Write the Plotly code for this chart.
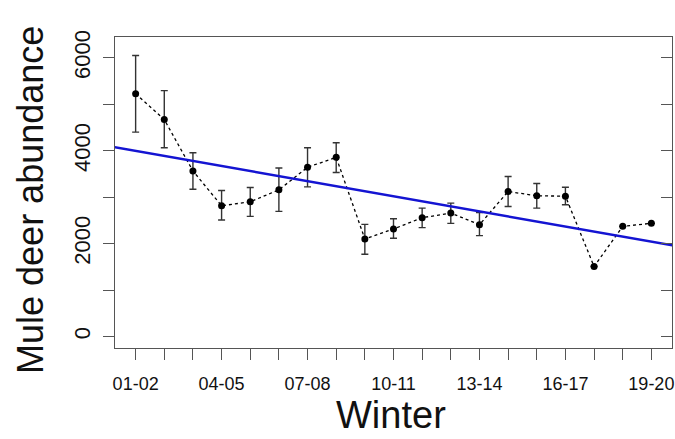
import numpy as np
import plotly.graph_objects as go

winters = ["01-02", "02-03", "03-04", "04-05", "05-06", "06-07", "07-08", "08-09", "09-10", "10-11",
           "11-12", "12-13", "13-14", "14-15", "15-16", "16-17", "17-18", "18-19", "19-20"]
abundance = [5228, 4671, 3564, 2814, 2900, 3157, 3643, 3857, 2100, 2314,
             2557, 2657, 2407, 3121, 3029, 3021, 1507, 2371, 2436]
upper = [6049, 5293, 3957, 3143, 3207, 3628, 4064, 4171, 2414, 2536,
         2764, 2871, 2671, 3443, 3293, 3214, None, None, None]
lower = [4400, 4064, 3171, 2507, 2586, 2693, 3221, 3529, 1771, 2114,
         2343, 2436, 2171, 2800, 2764, 2836, None, None, None]
labeled_winters = ["01-02", "04-05", "07-08", "10-11", "13-14", "16-17", "19-20"]
y_ticks = [0, 1000, 2000, 3000, 4000, 5000, 6000]
y_labels = ["0", "", "2000", "", "4000", "", "6000"]

idx = list(range(len(winters)))
err_plus = [(u - a) if u is not None else 0 for u, a in zip(upper, abundance)]
err_minus = [(a - l) if l is not None else 0 for l, a in zip(lower, abundance)]

slope, intercept = np.polyfit(idx, abundance, 1)
trend_x = [-2, len(winters) + 1]
trend_y = [intercept + slope * x for x in trend_x]

FONT = "Liberation Sans, Arial, sans-serif"
AX = "#555555"

fig = go.Figure()
fig.add_trace(go.Scatter(
    x=idx, y=abundance, mode="lines+markers",
    line=dict(color="black", width=1.3, dash="dot"),
    marker=dict(color="black", size=7),
    error_y=dict(type="data", symmetric=False, array=err_plus, arrayminus=err_minus,
                 color="#333333", thickness=1.4, width=3.5),
    showlegend=False, hoverinfo="skip"))
fig.add_trace(go.Scatter(
    x=trend_x, y=trend_y, mode="lines",
    line=dict(color="#1414D2", width=2.5),
    showlegend=False, hoverinfo="skip", cliponaxis=True))
fig.add_trace(go.Scatter(x=[None], y=[None], yaxis="y2", showlegend=False, hoverinfo="skip"))

ticktext_x = [w if w in labeled_winters else "" for w in winters]

fig.update_layout(
    width=675, height=439,
    margin=dict(l=115, r=3, t=37, b=91),
    paper_bgcolor="white", plot_bgcolor="white",
    font=dict(family=FONT, color="#111111"),
    xaxis=dict(range=[-0.72, 18.72], tickmode="array", tickvals=idx, ticktext=ticktext_x,
               ticks="outside", ticklen=11, tickcolor=AX, tickwidth=1.2,
               tickfont=dict(size=18, family=FONT, color="#111111"),
               showgrid=False, zeroline=False, showline=True, linecolor=AX, linewidth=1.3,
               mirror=True, tickangle=0, automargin=False, ticklabeloverflow="allow",
               ticklabelstandoff=8),
    yaxis=dict(range=[-248, 6448], tickmode="array", tickvals=y_ticks, ticktext=y_labels,
               ticks="outside", ticklen=11, tickcolor=AX, tickwidth=1.2,
               tickfont=dict(size=22, family=FONT, color="#111111"), tickangle=-90,
               showgrid=False, zeroline=False, showline=True, linecolor=AX, linewidth=1.3,
               mirror=True, automargin=False, ticklabelstandoff=4),
    yaxis2=dict(range=[-248, 6448], overlaying="y", side="right", tickmode="array",
                tickvals=y_ticks, ticks="inside", ticklen=11, tickcolor=AX, tickwidth=1.2,
                showticklabels=False, showgrid=False, zeroline=False, showline=False,
                automargin=False),
    annotations=[
        dict(text="Winter", xref="paper", yref="paper", x=0.495, y=0, yshift=-90,
             xanchor="center", yanchor="bottom", showarrow=False,
             font=dict(size=38, family=FONT, color="#111111")),
        dict(text="Mule deer abundance", xref="paper", yref="paper", x=0, xshift=-84,
             y=0.476, xanchor="center", yanchor="middle", textangle=-90, showarrow=False,
             font=dict(size=36, family=FONT, color="#111111")),
    ],
)

fig.write_html("out.html", config={"displayModeBar": False},
               post_script="document.body.style.margin='0';document.body.style.overflow='hidden';")
